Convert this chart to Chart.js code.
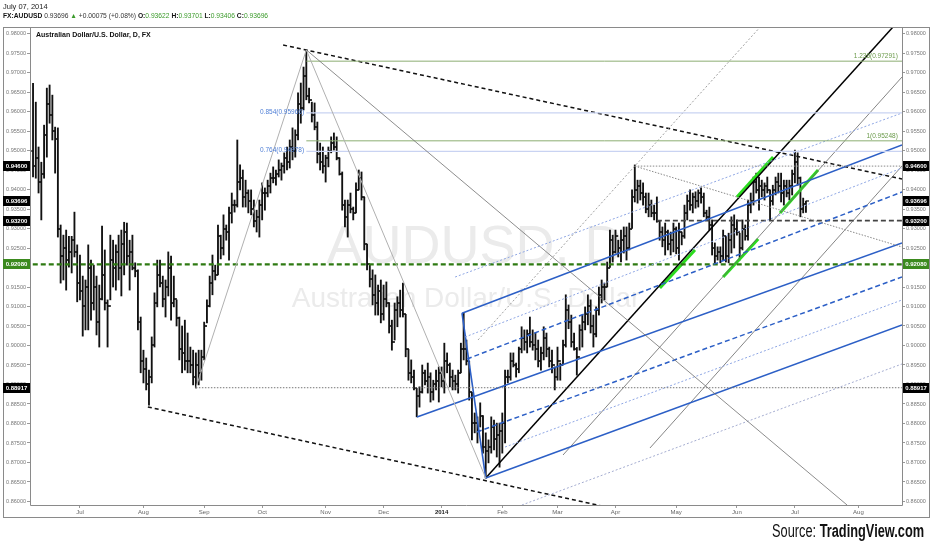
<!DOCTYPE html>
<html>
<head>
<meta charset="utf-8">
<script src="https://cdn.jsdelivr.net/npm/chart.js@4.4.1/dist/chart.umd.min.js"></script>
<style>
  body { margin: 0; background: #fff; font-family: "Liberation Sans", Arial, sans-serif; }
  #wrap { position: relative; width: 932px; height: 550px; overflow: hidden; }
  #c { position: absolute; left: 0; top: 0; }
  .hdr1 { position: absolute; left: 3px; top: 2px; font-size: 7.5px; color: #222; }
  .hdr2 { position: absolute; left: 3px; top: 12px; font-size: 6.7px; color: #333; white-space: nowrap; }
  .hdr2 b { color: #111; }
  .g { color: #3a9a2a; }
  .src { position: absolute; right: 8px; top: 521px; font-size: 18px; color: #111; white-space: nowrap;
         transform: scaleX(0.71); transform-origin: right center; }
</style>
</head>
<body>
<div id="wrap">
  <canvas id="c" width="932" height="550"></canvas>
  <div class="hdr1">July 07, 2014</div>
  <div class="hdr2"><b>FX:AUDUSD</b> 0.93696 <span class="g">▲</span> +0.00075 (+0.08%) <b>O:</b><span class="g">0.93622</span> <b>H:</b><span class="g">0.93701</span> <b>L:</b><span class="g">0.93406</span> <b>C:</b><span class="g">0.93696</span></div>
  <div class="src">Source: <b>TradingView.com</b></div>
</div>
<script>
// daily bars, x = trading-day index (0 = 1 Jul 2013)
const START = -17;
const firstOpen = 0.9500;

const highs = [
  .9672,.9624,.9509,.9470,.9565,.9660,.9668,.9642,.9560,.9558,
  .9309,.9283,.9296,.9280,.9280,.9342,.9258,.9232,.9178,.9168,
  .9258,.9219,.9206,.9178,.9155,.9306,.9245,.9117,.9283,.9270,
  .9258,.9283,.9296,.9316,.9314,.9270,.9283,.9212,.9194,.9073,
  .8988,.8968,.8937,.9022,.9135,.9219,.9219,.9178,.9168,.9240,
  .9229,.9178,.9117,.9073,.9050,.9065,.9032,.8996,.8988,.8981,
  .8988,.8988,.9060,.9117,.9178,.9232,.9206,.9309,.9283,.9335,
  .9309,.9355,.9391,.9373,.9527,.9463,.9450,.9424,.9399,.9399,
  .9373,.9347,.9373,.9417,.9404,.9424,.9442,.9458,.9450,.9476,
  .9468,.9494,.9509,.9527,.9558,.9553,.9648,.9673,.9714,.9758,
  .9660,.9624,.9622,.9573,.9519,.9509,.9488,.9509,.9535,.9545,
  .9535,.9481,.9445,.9373,.9373,.9391,.9355,.9417,.9450,.9445,
  .9380,.9260,.9206,.9194,.9181,.9155,.9168,.9155,.9163,.9110,
  .9065,.9109,.9125,.9142,.9160,.9080,.8990,.8963,.8937,.8890,
  .8894,.8950,.8937,.8955,.8930,.8911,.8937,.8945,.8945,.9006,
  .8981,.8955,.8937,.8924,.8937,.9006,.9083,.9014,.8960,.8880,
  .8827,.8817,.8853,.8820,.8776,.8758,.8817,.8809,.8801,.8801,
  .8827,.8937,.8937,.8981,.8981,.8955,.8996,.9048,.9040,.9040,
  .9073,.9040,.9032,.9014,.8996,.9048,.9032,.8996,.8988,.8945,
  .8996,.8955,.9014,.9130,.9104,.9078,.9032,.8995,.9053,.9078,
  .9099,.9130,.9117,.9078,.9099,.9150,.9168,.9160,.9214,.9296,
  .9283,.9296,.9270,.9296,.9304,.9304,.9314,.9399,.9463,.9424,
  .9424,.9417,.9391,.9391,.9373,.9360,.9381,.9320,.9304,.9314,
  .9296,.9291,.9314,.9304,.9314,.9291,.9360,.9386,.9399,.9391,
  .9394,.9399,.9404,.9391,.9347,.9355,.9322,.9263,.9253,.9253,
  .9296,.9280,.9288,.9330,.9335,.9322,.9288,.9322,.9309,.9373,
  .9391,.9432,.9442,.9432,.9424,.9417,.9432,.9399,.9411,.9432,
  .9442,.9442,.9424,.9424,.9424,.9450,.9501,.9494,.9432,.9378,.9370
];

const lows = [
  .9432,.9429,.9391,.9322,.9429,.9483,.9570,.9527,.9442,.9278,
  .9160,.9168,.9142,.9201,.9186,.9227,.9112,.9117,.9024,.9040,
  .9040,.9065,.9091,.9027,.8996,.9117,.9091,.8996,.9117,.9150,
  .9142,.9168,.9127,.9181,.9206,.9142,.9194,.9176,.9040,.8930,
  .8904,.8886,.8847,.8904,.8996,.9099,.9150,.9099,.9073,.9127,
  .9065,.9099,.9050,.8963,.8930,.8937,.8930,.8930,.8899,.8891,
  .8899,.8911,.8963,.9058,.9099,.9130,.9168,.9181,.9222,.9232,
  .9270,.9219,.9314,.9342,.9355,.9399,.9355,.9355,.9340,.9335,
  .9304,.9291,.9278,.9322,.9347,.9381,.9391,.9417,.9411,.9432,
  .9424,.9442,.9450,.9455,.9476,.9483,.9527,.9570,.9604,.9630,
  .9622,.9573,.9553,.9468,.9450,.9442,.9419,.9458,.9494,.9501,
  .9476,.9437,.9347,.9304,.9278,.9340,.9322,.9340,.9399,.9373,
  .9245,.9194,.9150,.9104,.9078,.9078,.9058,.9065,.9099,.9032,
  .8988,.9014,.9048,.9073,.9073,.8971,.8911,.8904,.8886,.8817,
  .8842,.8878,.8899,.8878,.8855,.8860,.8886,.8855,.8894,.8878,
  .8930,.8894,.8886,.8886,.8878,.8930,.8963,.8950,.8860,.8758,
  .8776,.8750,.8791,.8724,.8660,.8699,.8724,.8732,.8714,.8688,
  .8724,.8750,.8904,.8911,.8945,.8919,.8930,.8981,.8988,.8981,
  .8996,.8988,.8963,.8945,.8937,.8963,.8971,.8945,.8930,.8886,
  .8911,.8911,.8950,.8996,.9043,.8996,.8988,.8924,.8988,.8996,
  .9040,.9053,.9032,.8996,.9022,.9078,.9109,.9117,.9150,.9200,
  .9214,.9237,.9227,.9214,.9237,.9219,.9245,.9300,.9368,.9365,
  .9373,.9360,.9340,.9330,.9330,.9322,.9316,.9270,.9253,.9232,
  .9245,.9232,.9240,.9235,.9219,.9258,.9275,.9322,.9347,.9340,
  .9352,.9355,.9365,.9330,.9322,.9296,.9232,.9212,.9219,.9212,
  .9219,.9214,.9212,.9237,.9250,.9283,.9219,.9245,.9270,.9270,
  .9340,.9360,.9391,.9347,.9381,.9373,.9391,.9322,.9360,.9386,
  .9391,.9368,.9360,.9381,.9373,.9386,.9417,.9411,.9330,.9340,.9341
];

const closes = [
  .9460,.9480,.9420,.9440,.9540,.9620,.9590,.9550,.9530,.9300,
  .9230,.9250,.9220,.9240,.9270,.9240,.9160,.9140,.9100,.9150,
  .9200,.9110,.9150,.9060,.9120,.9180,.9110,.9100,.9220,.9200,
  .9240,.9200,.9260,.9290,.9230,.9240,.9200,.9190,.9060,.8960,
  .8940,.8900,.8920,.9000,.9110,.9180,.9160,.9120,.9150,.9200,
  .9110,.9120,.9070,.8990,.8980,.8960,.8960,.8950,.8920,.8950,
  .8930,.8970,.9050,.9100,.9160,.9190,.9180,.9280,.9250,.9300,
  .9290,.9340,.9360,.9360,.9420,.9430,.9380,.9390,.9370,.9350,
  .9320,.9330,.9360,.9390,.9390,.9410,.9430,.9430,.9440,.9450,
  .9460,.9480,.9470,.9510,.9500,.9540,.9620,.9610,.9690,.9640,
  .9630,.9590,.9560,.9490,.9470,.9460,.9480,.9500,.9520,.9510,
  .9480,.9440,.9360,.9330,.9360,.9350,.9340,.9400,.9430,.9380,
  .9260,.9210,.9170,.9130,.9110,.9140,.9080,.9120,.9110,.9050,
  .9010,.9090,.9110,.9090,.9080,.8990,.8930,.8920,.8890,.8870,
  .8880,.8930,.8910,.8920,.8880,.8900,.8910,.8930,.8910,.8960,
  .8950,.8920,.8910,.8900,.8930,.8990,.8990,.8960,.8880,.8800,
  .8800,.8780,.8820,.8740,.8730,.8740,.8790,.8760,.8770,.8780,
  .8800,.8920,.8920,.8960,.8950,.8940,.8990,.9020,.9010,.9030,
  .9010,.9000,.8990,.8960,.8980,.9020,.8990,.8960,.8950,.8920,
  .8960,.8950,.9000,.9090,.9060,.9010,.8990,.8970,.9040,.9060,
  .9080,.9100,.9050,.9030,.9090,.9130,.9150,.9150,.9200,.9270,
  .9240,.9280,.9250,.9270,.9280,.9250,.9300,.9380,.9400,.9410,
  .9390,.9380,.9350,.9360,.9340,.9340,.9320,.9290,.9270,.9290,
  .9260,.9270,.9300,.9250,.9290,.9280,.9340,.9370,.9360,.9380,
  .9370,.9390,.9380,.9340,.9330,.9310,.9250,.9230,.9240,.9230,
  .9280,.9230,.9270,.9310,.9300,.9290,.9250,.9300,.9280,.9360,
  .9370,.9420,.9400,.9410,.9400,.9410,.9400,.9370,.9400,.9420,
  .9410,.9390,.9410,.9390,.9410,.9440,.9470,.9430,.9350,.9362,.9370
];

const monthIdx = [0, 23, 45, 66, 89, 110, 131, 153, 173, 194, 216, 238, 259, 282];
const monthLabels = ['Jul', 'Aug', 'Sep', 'Oct', 'Nov', 'Dec', '2014', 'Feb', 'Mar', 'Apr', 'May', 'Jun', 'Jul', 'Aug'];
const priceTicks = [0.86, 0.865, 0.87, 0.875, 0.88, 0.885, 0.89, 0.895, 0.90, 0.905, 0.91, 0.915,
  0.92, 0.925, 0.93, 0.935, 0.94, 0.945, 0.95, 0.955, 0.96, 0.965, 0.97, 0.975, 0.98];

// price labels on both axes
const blackBoxes = [0.946, 0.93696, 0.932, 0.88917];
const greenBoxes = [0.9208];

// drawings, points are [bar index, price]
const resistanceLine = [[73.6, 0.97705], [297.8, 0.94269]];
const supportLine = [[24.6, 0.88423], [195.7, 0.85782]];
const swingPath = [[42, 0.88917], [82, 0.9758], [147, 0.8660]];
const octHighRay = [[82, 0.9758], [277.9, 0.8591]];
const level88917 = [[42, 0.88917], [300, 0.88917]];
const level9208 = [[-20, 0.9208], [300, 0.9208]];
const level932 = [[209, 0.932], [300, 0.932]];
const level946 = [[201, 0.946], [300, 0.946]];
const aprilRay = [[201, 0.946], [297.8, 0.92526]];
const fibStart = 82;
const fibExtLevels = [0.97291, 0.95248];
const fibExtLabels = ['1.236(0.97291)', '1(0.95248)'];
const fibRetLevels = [0.95966, 0.94978];
const fibRetLabels = ['0.854(0.95966)', '0.764(0.94978)'];

const forkHandle = [[138.4, 0.9083], [147, 0.8660]];
const forkTop = [[138.4, 0.9083], [297.8, 0.95141]];
const forkMedian = [[122.1, 0.88167], [297.8, 0.92628]];
const forkBottom = [[147, 0.8660], [297.8, 0.90526]];
const forkDashHi = [[140.2, 0.89654], [297.8, 0.93936]];
const forkDashLo = [[143.8, 0.87782], [297.8, 0.91756]];
const forkDot1 = [[135.9, 0.91756], [297.8, 0.95962]];
const forkDot2 = [[139.5, 0.90218], [297.8, 0.94551]];
const forkDot3 = [[154.0, 0.87397], [297.8, 0.91167]];
const forkDot4 = [[160.1, 0.85910], [297.8, 0.89526]];

const riseLine = [[147, 0.8660], [297.8, 0.98423]];
const riseParLo = [[175.0, 0.87192], [297.8, 0.96885]];
const riseParLo2 = [[206.5, 0.87372], [297.8, 0.94603]];
const riseParHi = [[144.2, 0.90141], [250, 0.98449]];

const limeMarks = [
  [[210.1, 0.91474], [222.8, 0.92449]],
  [[233.0, 0.91756], [245.7, 0.92731]],
  [[238.0, 0.93808], [251.1, 0.94833]],
  [[253.6, 0.93397], [267.4, 0.94500]]
];

// ---------- build datasets ----------
const bars = highs.map((h, k) => ({ x: START + k, y: [lows[k], h] }));
const opens = closes.map((c, k) => ({ x: START + k, y: k === 0 ? firstOpen : closes[k - 1] }));
const closePts = closes.map((c, k) => ({ x: START + k, y: c }));

function tickImage(side) {
  const cv = document.createElement('canvas');
  cv.width = 6; cv.height = 2;
  const g = cv.getContext('2d');
  g.fillStyle = '#111';
  g.fillRect(side === 'left' ? 0 : 3, 0.4, 3, 1.2);
  return cv;
}

function seg(pts, color, width, dash) {
  return {
    type: 'line',
    data: pts.map(p => ({ x: p[0], y: p[1] })),
    borderColor: color,
    borderWidth: width,
    borderDash: dash || [],
    pointRadius: 0,
    fill: false,
    tension: 0,
    order: 0
  };
}

const drawings = [
  seg(swingPath, '#b0b0b0', 1),
  seg(octHighRay, '#707070', 0.8),
  seg(level88917, '#777', 1, [1.5, 1.5]),
  seg(level946, '#888', 1, [1.5, 1.5]),
  seg(aprilRay, '#888', 1, [1.5, 1.5]),
  ...fibExtLevels.map(v => seg([[fibStart, v], [300, v]], '#8cae72', 1)),
  ...fibRetLevels.map(v => seg([[fibStart, v], [300, v]], '#c9d3f2', 1.2)),
  seg(forkDot4, '#a4acd0', 1, [2, 2]),
  seg(forkDot1, '#8ea6e4', 1, [2, 2]),
  seg(forkDot2, '#8ea6e4', 1, [2, 2]),
  seg(forkDot3, '#8ea6e4', 1, [2, 2]),
  seg(forkDashHi, '#2c5fc6', 1.5, [5, 3]),
  seg(forkDashLo, '#2c5fc6', 1.5, [5, 3]),
  seg(forkHandle, '#2c5fc6', 1.6),
  seg(forkTop, '#2c5fc6', 1.6),
  seg(forkMedian, '#2c5fc6', 1.6),
  seg(forkBottom, '#2c5fc6', 1.6),
  seg(riseParLo, '#666', 0.8),
  seg(riseParLo2, '#666', 0.8),
  seg(riseParHi, '#888', 0.8, [2, 2]),
  seg(riseLine, '#000', 1.5),
  seg(resistanceLine, '#111', 1.5, [4, 3]),
  seg(supportLine, '#111', 1.5, [4, 3]),
  seg(level932, '#444', 1.8, [5, 3]),
  seg(level9208, '#2e7a12', 2.2, [5, 3]),
  ...limeMarks.map(m => seg(m, '#2bdc1e', 3))
];

const Y_MIN = 0.8591, Y_MAX = 0.98167;

const overlay = {
  id: 'overlay',
  beforeDatasetsDraw(chart) {
    const ctx = chart.ctx;
    ctx.save();
    ctx.fillStyle = '#ebebeb';
    ctx.textAlign = 'center';
    ctx.textBaseline = 'alphabetic';
    ctx.font = '54px "Liberation Sans", Arial, sans-serif';
    ctx.fillText('AUDUSD, D', 475, 263);
    ctx.font = '28px "Liberation Sans", Arial, sans-serif';
    ctx.fillText('Australian Dollar/U.S. Dollar', 466, 307);
    ctx.restore();
  },
  afterDraw(chart) {
    const ctx = chart.ctx;
    const xs = chart.scales.x, ys = chart.scales.y;
    const a = chart.chartArea;
    ctx.save();
    // frames
    ctx.strokeStyle = '#8a8a8a';
    ctx.lineWidth = 1;
    ctx.strokeRect(3.5, 27.5, 926, 490);
    ctx.beginPath();
    ctx.moveTo(a.left + 0.5, a.top); ctx.lineTo(a.left + 0.5, a.bottom + 0.5);
    ctx.lineTo(a.right + 0.5, a.bottom + 0.5); ctx.lineTo(a.right + 0.5, a.top);
    ctx.stroke();

    // title
    ctx.fillStyle = '#111';
    ctx.font = 'bold 7px "Liberation Sans", Arial, sans-serif';
    ctx.textAlign = 'left';
    ctx.textBaseline = 'middle';
    ctx.fillText('Australian Dollar/U.S. Dollar, D, FX', 36, 35);

    // fib labels
    ctx.font = '6.5px "Liberation Sans", Arial, sans-serif';
    ctx.textAlign = 'right';
    ctx.textBaseline = 'alphabetic';
    ctx.fillStyle = '#6a9a4a';
    fibExtLevels.forEach((v, k) => ctx.fillText(fibExtLabels[k], xs.getPixelForValue(296.3), ys.getPixelForValue(v) - 3));
    ctx.textBaseline = 'middle';
    ctx.fillStyle = '#4f7fd6';
    fibRetLevels.forEach((v, k) => ctx.fillText(fibRetLabels[k], xs.getPixelForValue(81.2), ys.getPixelForValue(v) - 1));

    // axis price boxes
    ctx.font = 'bold 6px "Liberation Sans", Arial, sans-serif';
    ctx.textAlign = 'center';
    ctx.textBaseline = 'middle';
    const box = (v, bg) => {
      const y = Math.round(ys.getPixelForValue(v));
      [[3, a.left - 3], [a.right + 1, 928 - a.right]].forEach(([x0, w]) => {
        ctx.fillStyle = bg;
        ctx.fillRect(x0, y - 5, w, 10);
        ctx.fillStyle = '#fff';
        ctx.fillText(v.toFixed(5), x0 + w / 2, y + 0.5);
      });
    };
    blackBoxes.forEach(v => box(v, '#000'));
    greenBoxes.forEach(v => box(v, '#3b8a1e'));
    ctx.restore();
  }
};

const yAxis = (pos) => ({
  position: pos,
  min: Y_MIN,
  max: Y_MAX,
  afterBuildTicks: s => { s.ticks = priceTicks.map(v => ({ value: v })); },
  afterFit: s => { s.width = 27; },
  ticks: {
    callback: v => Number(v).toFixed(5),
    font: { size: 5.5, family: '"Liberation Sans", Arial, sans-serif' },
    color: '#777',
    padding: 1,
    autoSkip: false
  },
  grid: { drawOnChartArea: false, tickLength: 3, color: '#999' },
  border: { display: false }
});

new Chart(document.getElementById('c'), {
  type: 'line',
  data: {
    datasets: [
      ...drawings,
      {
        type: 'line', data: opens, showLine: false, pointStyle: tickImage('left'),
        pointRadius: 1, order: 1
      },
      {
        type: 'line', data: closePts, showLine: false, pointStyle: tickImage('right'),
        pointRadius: 1, order: 1
      },
      {
        type: 'bar', data: bars, backgroundColor: '#111', barThickness: 1.2,
        grouped: false, order: 2
      }
    ]
  },
  options: {
    responsive: false,
    animation: false,
    events: [],
    layout: { padding: { left: 3, right: 3, top: 27, bottom: 33 } },
    plugins: { legend: { display: false }, tooltip: { enabled: false } },
    scales: {
      x: {
        type: 'linear',
        min: -18.1,
        max: 297.8,
        offset: false,
        afterBuildTicks: s => { s.ticks = monthIdx.map(v => ({ value: v })); },
        afterFit: s => { s.height = 12; },
        ticks: {
          callback: v => monthLabels[monthIdx.indexOf(v)],
          font: c => ({ size: 6, family: '"Liberation Sans", Arial, sans-serif',
                        weight: c.tick && c.tick.value === 131 ? 'bold' : 'normal' }),
          color: c => (c.tick && c.tick.value === 131 ? '#222' : '#666'),
          maxRotation: 0,
          autoSkip: false,
          padding: 1
        },
        grid: { drawOnChartArea: false, tickLength: 3, color: '#999', offset: false },
        border: { display: false }
      },
      y: yAxis('left'),
      y2: yAxis('right')
    }
  },
  plugins: [overlay]
});
</script>
</body>
</html>
